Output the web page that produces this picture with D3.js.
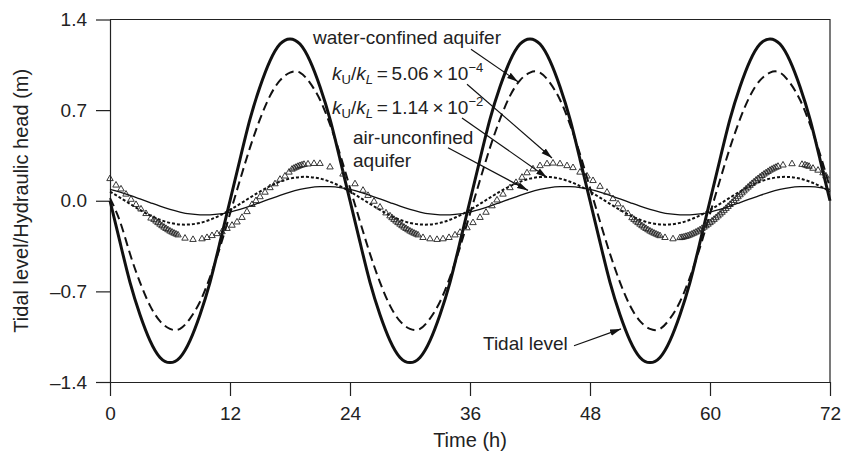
<!DOCTYPE html>
<html>
<head>
<meta charset="utf-8">
<script src="https://cdn.jsdelivr.net/npm/d3@7"></script>
<style>
  body { margin: 0; background: #fff; }
  svg { display: block; font-family: "Liberation Sans", Arial, sans-serif; }
  .axis text { font-size: 19px; fill: #222; }
  .axis path, .axis line { stroke: #222; stroke-width: 1.2; }
</style>
</head>
<body>
<div id="chart"></div>
<script>
const width = 845;
const height = 454;

// Hourly time grid (h)
const hours = d3.range(0, 73);

// Tidal level (m), read hourly
const tidalLevel = [
  0, -0.32, -0.63, -0.88, -1.08, -1.21, -1.25, -1.21, -1.08, -0.88, -0.63, -0.32,
  0, 0.32, 0.63, 0.88, 1.08, 1.21, 1.25, 1.21, 1.08, 0.88, 0.63, 0.32,
  0, -0.32, -0.63, -0.88, -1.08, -1.21, -1.25, -1.21, -1.08, -0.88, -0.63, -0.32,
  0, 0.32, 0.63, 0.88, 1.08, 1.21, 1.25, 1.21, 1.08, 0.88, 0.63, 0.32,
  0, -0.32, -0.63, -0.88, -1.08, -1.21, -1.25, -1.21, -1.08, -0.88, -0.63, -0.32,
  0, 0.32, 0.63, 0.88, 1.08, 1.21, 1.25, 1.21, 1.08, 0.88, 0.63, 0.32,
  0
];

// Water-confined aquifer head (m)
const waterConfined = [
  0.02, -0.16, -0.41, -0.63, -0.81, -0.93, -0.99, -0.99, -0.91, -0.78, -0.59, -0.36,
  -0.10, 0.16, 0.41, 0.63, 0.81, 0.93, 0.99, 0.99, 0.91, 0.78, 0.59, 0.36,
  0.10, -0.16, -0.41, -0.63, -0.81, -0.93, -0.99, -0.99, -0.91, -0.78, -0.59, -0.36,
  -0.10, 0.16, 0.41, 0.63, 0.81, 0.93, 0.99, 0.99, 0.91, 0.78, 0.59, 0.36,
  0.10, -0.16, -0.41, -0.63, -0.81, -0.93, -0.99, -0.99, -0.91, -0.78, -0.59, -0.36,
  -0.10, 0.16, 0.41, 0.63, 0.81, 0.93, 0.99, 0.99, 0.91, 0.78, 0.59, 0.36,
  0.10
];

// kU/kL = 1.14e-2 (short dashes)
const kRatioHigh = [
  0.071, 0.024, -0.024, -0.071, -0.113, -0.147, -0.171, -0.183, -0.183, -0.171, -0.147, -0.113,
  -0.071, -0.024, 0.024, 0.071, 0.113, 0.147, 0.171, 0.183, 0.183, 0.171, 0.147, 0.113,
  0.071, 0.024, -0.024, -0.071, -0.113, -0.147, -0.171, -0.183, -0.183, -0.171, -0.147, -0.113,
  -0.071, -0.024, 0.024, 0.071, 0.113, 0.147, 0.171, 0.183, 0.183, 0.171, 0.147, 0.113,
  0.071, 0.024, -0.024, -0.071, -0.113, -0.147, -0.171, -0.183, -0.183, -0.171, -0.147, -0.113,
  -0.071, -0.024, 0.024, 0.071, 0.113, 0.147, 0.171, 0.183, 0.183, 0.171, 0.147, 0.113,
  0.071
];

// Air-unconfined aquifer head (thin line)
const airUnconfined = [
  0.087, 0.067, 0.042, 0.014, -0.014, -0.042, -0.067, -0.087, -0.102, -0.109, -0.109, -0.102,
  -0.087, -0.067, -0.042, -0.014, 0.014, 0.042, 0.067, 0.087, 0.102, 0.109, 0.109, 0.102,
  0.087, 0.067, 0.042, 0.014, -0.014, -0.042, -0.067, -0.087, -0.102, -0.109, -0.109, -0.102,
  -0.087, -0.067, -0.042, -0.014, 0.014, 0.042, 0.067, 0.087, 0.102, 0.109, 0.109, 0.102,
  0.087, 0.067, 0.042, 0.014, -0.014, -0.042, -0.067, -0.087, -0.102, -0.109, -0.109, -0.102,
  -0.087, -0.067, -0.042, -0.014, 0.014, 0.042, 0.067, 0.087, 0.102, 0.109, 0.109, 0.102,
  0.087
];

// kU/kL = 5.06e-4 (triangles): [time, head]
const kRatioLow = [
  [0, 0.17], [0.6, 0.12], [1.1, 0.09], [1.6, 0.05], [2.1, 0.01], [2.6, -0.03], [3.1, -0.065], [3.6, -0.10], [4.1, -0.135],
  [4.4, -0.145], [4.6, -0.158], [4.8, -0.170], [5.0, -0.182], [5.2, -0.194], [5.4, -0.205], [5.6, -0.215],
  [5.8, -0.225], [6.0, -0.235], [6.2, -0.243], [6.4, -0.251], [6.6, -0.258], [6.8, -0.265],
  [7.5, -0.29], [8.3, -0.30], [9.2, -0.295], [9.7, -0.285], [10.2, -0.27], [10.7, -0.255], [11.2, -0.24],
  [11.7, -0.215], [12.2, -0.19], [12.7, -0.165], [13.2, -0.13], [13.7, -0.085], [14.2, -0.03], [14.6, 0.0],
  [15.0, 0.03], [15.5, 0.065], [16.0, 0.10], [16.5, 0.13], [17.0, 0.165], [17.5, 0.19], [17.9, 0.22],
  [18.2, 0.243], [18.4, 0.251], [18.6, 0.258], [18.8, 0.265], [19.0, 0.271], [19.2, 0.276], [19.4, 0.28],
  [19.8, 0.283], [20.4, 0.287], [21.0, 0.287], [22.0, 0.26], [23.3, 0.205], [24.5, 0.13], [25.3, 0.08],
  [25.8, 0.04], [26.4, -0.005], [27.0, -0.05], [27.6, -0.095],
  [28.0, -0.118], [28.2, -0.132], [28.4, -0.145], [28.6, -0.158], [28.8, -0.170], [29.0, -0.182], [29.2, -0.194],
  [29.4, -0.205], [29.6, -0.215], [29.8, -0.225], [30.0, -0.235], [30.2, -0.243], [30.4, -0.251], [30.6, -0.258], [30.8, -0.265],
  [31.3, -0.285], [32.0, -0.295], [32.7, -0.30], [33.3, -0.295], [33.9, -0.285], [34.5, -0.265], [35.0, -0.245],
  [35.7, -0.21], [36.3, -0.17], [37.0, -0.13], [37.6, -0.09], [38.2, -0.04], [38.7, 0.005], [39.3, 0.05],
  [40.0, 0.10], [40.6, 0.14], [41.2, 0.18], [41.7, 0.215], [42.3, 0.245], [43.0, 0.27], [43.7, 0.285],
  [44.3, 0.29], [45.0, 0.285], [45.7, 0.27], [46.3, 0.255], [47.0, 0.22], [47.7, 0.19], [48.3, 0.155],
  [49.0, 0.11], [49.7, 0.065], [50.3, 0.015], [50.8, -0.025], [51.3, -0.065], [51.8, -0.10],
  [52.2, -0.132], [52.4, -0.145], [52.6, -0.158], [52.8, -0.170], [53.0, -0.182], [53.2, -0.194], [53.4, -0.205],
  [53.6, -0.215], [53.8, -0.225], [54.0, -0.235], [54.2, -0.243], [54.4, -0.251], [54.6, -0.258], [54.8, -0.265], [55.0, -0.271],
  [55.5, -0.285], [56.3, -0.295],
  [57.0, -0.286], [57.2, -0.284], [57.4, -0.280], [57.6, -0.276], [57.8, -0.271], [58.0, -0.265], [58.2, -0.258],
  [58.4, -0.251], [58.6, -0.243], [58.8, -0.235], [59.0, -0.225], [59.2, -0.215], [59.4, -0.205], [59.6, -0.194],
  [59.8, -0.182], [60.0, -0.170], [60.2, -0.158], [60.4, -0.145], [60.6, -0.132], [60.8, -0.118], [61.0, -0.104],
  [61.2, -0.090], [61.4, -0.075], [61.6, -0.060], [61.8, -0.045], [62.0, -0.030], [62.2, -0.015], [62.4, 0.0],
  [62.6, 0.015], [62.8, 0.030], [63.0, 0.045], [63.2, 0.060], [63.4, 0.075], [63.6, 0.090], [63.8, 0.104],
  [64.0, 0.118], [64.2, 0.132], [64.4, 0.145], [64.6, 0.158], [64.8, 0.170], [65.0, 0.182], [65.2, 0.194],
  [65.4, 0.205], [65.6, 0.215], [65.8, 0.225], [66.0, 0.235], [66.2, 0.243], [66.4, 0.251], [66.6, 0.258], [66.8, 0.265],
  [67.3, 0.275], [68.2, 0.285], [69.2, 0.28], [69.5, 0.276], [69.7, 0.27], [69.9, 0.265], [70.3, 0.25],
  [70.8, 0.235], [71.3, 0.215], [71.6, 0.19]
];

const xTicks = [0, 12, 24, 36, 48, 60, 72];
const yTicks = [1.4, 0.7, 0.0, -0.7, -1.4];
const yTickLabels = ["1.4", "0.7", "0.0", "\u20130.7", "\u20131.4"];

// Annotation arrows in data units: tail [t, h] -> tip [t, h]
const arrows = [
  {from: [36.1, 1.17], to: [40.8, 0.92]},
  {from: [35.7, 0.90], to: [44.2, 0.33]},
  {from: [35.2, 0.64], to: [43.7, 0.18]},
  {from: [33.8, 0.41], to: [41.8, 0.08]},
  {from: [46.4, -1.12], to: [51.1, -0.99]}
];
const plainLabels = [
  {text: "water-confined aquifer", t: 20.3, h: 1.21},
  {text: "air-unconfined", t: 24.3, h: 0.44},
  {text: "aquifer", t: 24.3, h: 0.26},
  {text: "Tidal level", t: 37.3, h: -1.15}
];
const ratioLabels = [
  {value: "5.06", exp: "\u22124", t: 22.2, h: 0.93},
  {value: "1.14", exp: "\u22122", t: 22.2, h: 0.67}
];

const x = d3.scaleLinear().domain([0, 72]).range([110, 830]);
const y = d3.scaleLinear().domain([-1.4, 1.4]).range([382, 19.5]);

const svg = d3.select("#chart").append("svg")
  .attr("width", width)
  .attr("height", height);

svg.append("defs").append("marker")
  .attr("id", "arrow")
  .attr("markerUnits", "userSpaceOnUse")
  .attr("markerWidth", 12)
  .attr("markerHeight", 8)
  .attr("refX", 11)
  .attr("refY", 4)
  .attr("orient", "auto")
  .append("path")
  .attr("d", "M0,0.8 L11,4 L0,7.2 Z")
  .attr("fill", "#111");

// Axes
svg.append("g")
  .attr("class", "axis")
  .attr("transform", `translate(0,${y(-1.4)})`)
  .call(d3.axisBottom(x).tickValues(xTicks).tickSize(14).tickSizeOuter(0).tickPadding(11).tickFormat(d3.format("d")));

svg.append("g")
  .attr("class", "axis")
  .attr("transform", `translate(${x(0)},0)`)
  .call(d3.axisLeft(y).tickValues(yTicks).tickSize(14).tickSizeOuter(0).tickPadding(9)
    .tickFormat((d, i) => yTickLabels[i]));

// Top and right border
svg.append("path")
  .attr("d", `M${x(0)},${y(1.4)} H${x(72)} V${y(-1.4)}`)
  .attr("fill", "none")
  .attr("stroke", "#222")
  .attr("stroke-width", 1.2);

// Axis titles
svg.append("text")
  .attr("x", (x(0) + x(72)) / 2)
  .attr("y", 447)
  .attr("text-anchor", "middle")
  .style("font-size", "20px")
  .attr("fill", "#222")
  .text("Time (h)");

svg.append("text")
  .attr("transform", `translate(28,${(y(1.4) + y(-1.4)) / 2}) rotate(-90)`)
  .attr("text-anchor", "middle")
  .style("font-size", "20px")
  .attr("fill", "#222")
  .text("Tidal level/Hydraulic head (m)");

// Lines
const line = d3.line()
  .x((d, i) => x(hours[i]))
  .y(d => y(d))
  .curve(d3.curveNatural);

svg.append("path")
  .datum(airUnconfined)
  .attr("fill", "none")
  .attr("stroke", "#111")
  .attr("stroke-width", 1.3)
  .attr("d", line);

svg.append("path")
  .datum(kRatioHigh)
  .attr("fill", "none")
  .attr("stroke", "#111")
  .attr("stroke-width", 2)
  .attr("stroke-dasharray", "3,2")
  .attr("d", line);

svg.append("path")
  .datum(waterConfined)
  .attr("fill", "none")
  .attr("stroke", "#111")
  .attr("stroke-width", 2)
  .attr("stroke-dasharray", "9,5")
  .attr("d", line);

svg.append("path")
  .datum(tidalLevel)
  .attr("fill", "none")
  .attr("stroke", "#111")
  .attr("stroke-width", 3)
  .attr("d", line);

// Triangle points
svg.append("g")
  .selectAll("path")
  .data(kRatioLow)
  .join("path")
  .attr("transform", d => `translate(${x(d[0])},${y(d[1])})`)
  .attr("d", d3.symbol(d3.symbolTriangle, 18))
  .attr("fill", "none")
  .attr("stroke", "#222")
  .attr("stroke-width", 0.9);

// Annotations
svg.append("g")
  .selectAll("line")
  .data(arrows)
  .join("line")
  .attr("x1", d => x(d.from[0]))
  .attr("y1", d => y(d.from[1]))
  .attr("x2", d => x(d.to[0]))
  .attr("y2", d => y(d.to[1]))
  .attr("stroke", "#111")
  .attr("stroke-width", 1.2)
  .attr("marker-end", "url(#arrow)");

svg.append("g")
  .selectAll("text")
  .data(plainLabels)
  .join("text")
  .attr("x", d => x(d.t))
  .attr("y", d => y(d.h))
  .style("font-size", "19px")
  .attr("fill", "#222")
  .text(d => d.text);

const ratio = svg.append("g")
  .selectAll("text")
  .data(ratioLabels)
  .join("text")
  .attr("x", d => x(d.t))
  .attr("y", d => y(d.h))
  .style("font-size", "19px")
  .attr("fill", "#222");

ratio.append("tspan").style("font-style", "italic").text("k");
ratio.append("tspan").attr("dy", 4).style("font-size", "13px").text("U");
ratio.append("tspan").attr("dy", -4).text("/");
ratio.append("tspan").style("font-style", "italic").text("k");
ratio.append("tspan").attr("dy", 4).style("font-size", "13px").style("font-style", "italic").text("L");
ratio.append("tspan").attr("dy", -4).text(d => `\u2009=\u2009${d.value}\u2009\u00d7\u200910`);
ratio.append("tspan").attr("dy", -8).style("font-size", "13px").text(d => d.exp);
</script>
</body>
</html>
